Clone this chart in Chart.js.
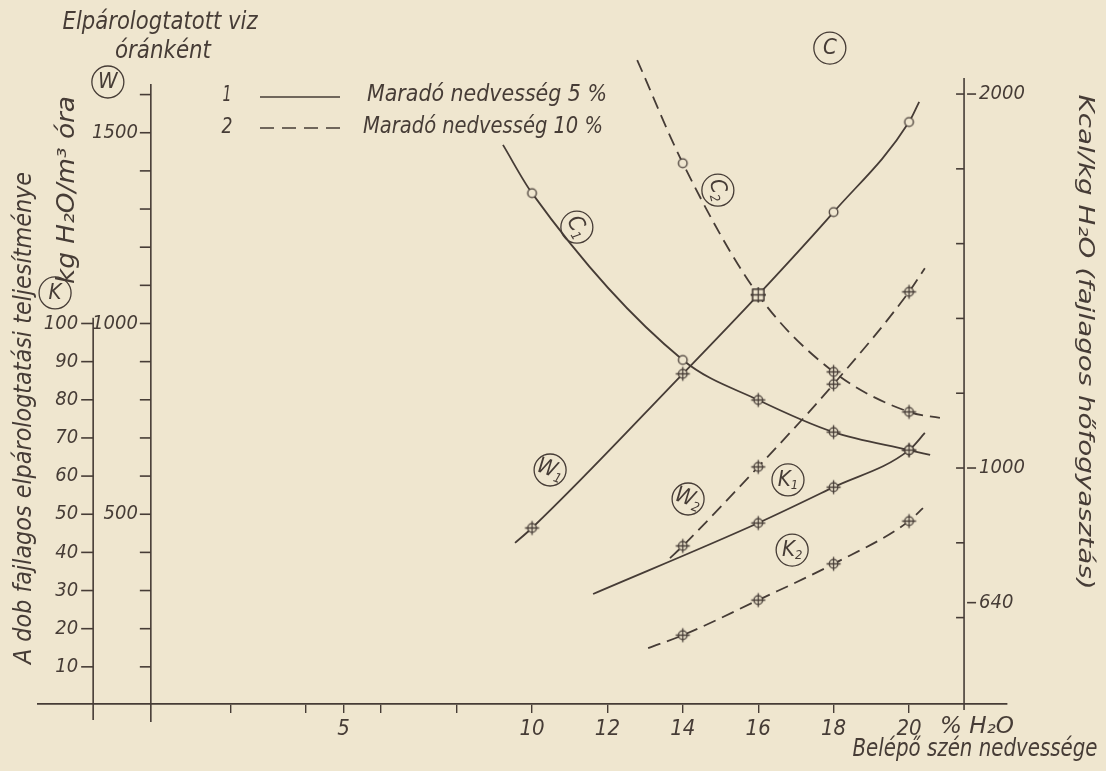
<!DOCTYPE html>
<html>
<head>
<meta charset="utf-8">
<script src="https://cdn.jsdelivr.net/npm/chart.js@4/dist/chart.umd.min.js"></script>
<style>
  html, body { margin: 0; padding: 0; background: #efe6cf; }
  #wrap { width: 1106px; height: 771px; position: relative; }
</style>
</head>
<body>
<div id="wrap"><canvas id="c" width="1106" height="771"></canvas></div>
<script>
// ---- values (x: belépő szén nedvessége, % H2O) ----
// C1 / C2: fajlagos hőfogyasztás, Kcal/kg H2O (5 % / 10 % maradó nedvesség)
const c1Moisture = [9.23, 10, 14, 16, 18, 20, 20.56];
const c1Heat     = [1864, 1735, 1289, 1182, 1096, 1048, 1035];
const c2Moisture = [12.79, 14, 16, 18, 20, 20.82];
const c2Heat     = [2091, 1815, 1463, 1257, 1150, 1134];
// W1 / W2: elpárologtatott víz óránként, kg
const w1Moisture = [9.55, 10, 14, 16, 18, 20, 20.27];
const w1Water    = [425, 464, 868, 1075, 1292, 1528, 1581];
const w2Moisture = [13.66, 14, 16, 18, 20, 20.42];
const w2Water    = [385, 417, 624, 841, 1083, 1145];
// K1 / K2: a dob fajlagos elpárologtatási teljesítménye, kg H2O/m3 óra
const k1Moisture = [11.62, 16, 18, 20, 20.42];
const k1Rate     = [29.1, 47.7, 57.1, 66.8, 71.3];
const k2Moisture = [13.08, 14, 16, 18, 20, 20.37];
const k2Rate     = [14.9, 18.3, 27.5, 37.0, 48.2, 51.6];

// ---- tick values ----
const xTicks      = [2, 4, 5, 6, 8, 10, 12, 14, 16, 18, 20];
const xTickLabels = [5, 10, 12, 14, 16, 18, 20];
const wTicks      = [100, 200, 300, 400, 500, 600, 700, 800, 900, 1000, 1100, 1200, 1300, 1400, 1500, 1600];
const wTickLabels = [500, 1000, 1500];
const kTicks      = [10, 20, 30, 40, 50, 60, 70, 80, 90, 100];
const kTickLabels = [10, 20, 30, 40, 50, 60, 70, 80, 90, 100];
const cTicks      = [600, 800, 1000, 1200, 1400, 1600, 1800, 2000];
const cTickLabels = [640, 1000, 2000];

// ---- look ----
const INK = '#463c36';
const PAPER = '#efe6cf';
const FONT = "'DejaVu Sans Condensed', 'DejaVu Sans', sans-serif";
const font = s => `italic ${s}px ${FONT}`;

// where the vertical scales stand along the moisture axis
const W_AXIS_AT = -0.11;
const K_AXIS_AT = -1.64;
const C_AXIS_AT = 21.46;

// marker kind per point: '' = none, 'o' = ring, '+' = ring with cross, '#' = crossed square
const markerKinds = {
  c1: ['', 'o', 'o', '+', '+', '+', ''],
  c2: ['', 'o', '#', '+', '+', ''],
  w1: ['', '+', '+', '#', 'o', 'o', ''],
  w2: ['', '+', '+', '+', '+', ''],
  k1: ['', '+', '+', '+', ''],
  k2: ['', '+', '+', '+', '+', '']
};

function makeMarker(kind) {
  const s = 17, c = s / 2;
  const cv = document.createElement('canvas');
  cv.width = cv.height = s;
  const g = cv.getContext('2d');
  g.strokeStyle = INK; g.lineWidth = 1.3; g.fillStyle = PAPER;
  if (kind === '#') {
    g.fillRect(c - 5.5, c - 5.5, 11, 11);
    g.strokeRect(c - 5.5, c - 5.5, 11, 11);
    g.beginPath(); g.moveTo(c, 1); g.lineTo(c, s - 1); g.moveTo(1, c); g.lineTo(s - 1, c); g.stroke();
    return cv;
  }
  g.beginPath(); g.arc(c, c, 4.3, 0, Math.PI * 2); g.fill(); g.stroke();
  if (kind === '+') {
    g.beginPath(); g.moveTo(c, 1.5); g.lineTo(c, s - 1.5); g.moveTo(1.5, c); g.lineTo(s - 1.5, c); g.stroke();
  }
  return cv;
}
const markerImg = { 'o': makeMarker('o'), '+': makeMarker('+'), '#': makeMarker('#') };

function series(xs, ys) { return xs.map((x, i) => ({ x, y: ys[i] })); }

function lineSet(label, xs, ys, axis, kinds, dashed) {
  return {
    label,
    data: series(xs, ys),
    yAxisID: axis,
    showLine: true,
    borderColor: INK,
    borderWidth: 1.8,
    borderDash: dashed ? [13, 7] : [],
    cubicInterpolationMode: 'monotone',
    clip: false,
    pointRadius: ctx => kinds[ctx.dataIndex] ? 5 : 0,
    pointStyle: ctx => markerImg[kinds[ctx.dataIndex]] || 'circle',
    pointBackgroundColor: PAPER,
    pointBorderColor: INK
  };
}

function strokeLine(ctx, x1, y1, x2, y2) {
  ctx.beginPath(); ctx.moveTo(x1, y1); ctx.lineTo(x2, y2); ctx.stroke();
}

// text squeezed/stretched to a given run length, optionally rotated
function fitText(ctx, text, cx, cy, size, width, rotDeg) {
  ctx.save();
  ctx.font = font(size);
  const w = ctx.measureText(text).width;
  ctx.translate(cx, cy);
  ctx.rotate((rotDeg || 0) * Math.PI / 180);
  ctx.scale(width / w, 1);
  ctx.textAlign = 'center';
  ctx.textBaseline = 'middle';
  ctx.fillText(text, 0, 0);
  ctx.restore();
}

function circledLabel(ctx, main, sub, cx, cy, rotDeg) {
  ctx.save();
  ctx.translate(cx, cy);
  ctx.beginPath(); ctx.arc(0, 0, 16, 0, Math.PI * 2);
  ctx.lineWidth = 1.3; ctx.stroke();
  ctx.rotate((rotDeg || 0) * Math.PI / 180);
  ctx.textBaseline = 'middle';
  ctx.font = font(22);
  const mw = ctx.measureText(main).width;
  let sw = 0;
  if (sub) { ctx.font = font(13); sw = ctx.measureText(sub).width; }
  const x0 = -(mw + sw) / 2;
  ctx.font = font(22); ctx.textAlign = 'left';
  ctx.fillText(main, x0, 0);
  if (sub) { ctx.font = font(13); ctx.fillText(sub, x0 + mw, 6); }
  ctx.restore();
}

const nomogramPlugin = {
  id: 'nomogram',
  afterDatasetsDraw(chart) {
    const { ctx, chartArea, scales } = chart;
    const { x, yW, yK, yC } = scales;
    ctx.save();
    ctx.strokeStyle = INK;
    ctx.fillStyle = INK;
    ctx.lineWidth = 1.6;

    // W scale
    const wx = x.getPixelForValue(W_AXIS_AT);
    strokeLine(ctx, wx, yW.getPixelForValue(1628), wx, chartArea.bottom + 18);
    wTicks.forEach(v => { const py = yW.getPixelForValue(v); strokeLine(ctx, wx - 11, py, wx, py); });
    ctx.font = font(20); ctx.textAlign = 'right'; ctx.textBaseline = 'middle';
    wTickLabels.forEach(v => ctx.fillText(String(v), wx - 13, yW.getPixelForValue(v)));

    // K scale
    const kx = x.getPixelForValue(K_AXIS_AT);
    strokeLine(ctx, kx, yK.getPixelForValue(101.5), kx, chartArea.bottom + 16);
    kTicks.forEach(v => { const py = yK.getPixelForValue(v); strokeLine(ctx, kx - 12, py, kx, py); });
    ctx.font = font(20); ctx.textAlign = 'right';
    kTickLabels.forEach(v => ctx.fillText(String(v), kx - 15, yK.getPixelForValue(v)));

    // C scale
    const cx = x.getPixelForValue(C_AXIS_AT);
    strokeLine(ctx, cx, yC.getPixelForValue(2043), cx, chartArea.bottom + 6);
    cTicks.forEach(v => { const py = yC.getPixelForValue(v); strokeLine(ctx, cx - 8, py, cx, py); });
    ctx.font = font(20); ctx.textAlign = 'left';
    cTickLabels.forEach(v => {
      const py = yC.getPixelForValue(v);
      strokeLine(ctx, cx + 3, py, cx + 12, py);
      ctx.fillText(String(v), cx + 15, py);
    });

    // titles
    fitText(ctx, 'Elpárologtatott viz', 160, 23, 24, 195, 0);
    fitText(ctx, 'óránként', 163, 52, 24, 96, 0);
    fitText(ctx, 'A dob fajlagos elpárologtatási teljesítménye', 25, 418, 24, 492, -90);
    fitText(ctx, 'kg H₂O/m³ óra', 68, 190, 24, 188, -90);
    fitText(ctx, 'Kcal/kg H₂O (fajlagos hőfogyasztás)', 1085, 342, 22, 495, 90);
    fitText(ctx, 'Belépő szén nedvessége', 975, 750, 24, 245, 0);
    fitText(ctx, '% H₂O', 977, 727, 23, 74, 0);

    // legend
    ctx.lineWidth = 1.6;
    fitText(ctx, '1', 227, 95, 22, 9, 0);
    strokeLine(ctx, 260, 97, 340, 97);
    fitText(ctx, 'Maradó nedvesség 5 %', 487, 95, 23, 240, 0);
    fitText(ctx, '2', 227, 127, 22, 11, 0);
    ctx.setLineDash([14, 8]);
    strokeLine(ctx, 260, 128, 342, 128);
    ctx.setLineDash([]);
    fitText(ctx, 'Maradó nedvesség 10 %', 483, 127, 23, 240, 0);

    // circled scale / curve names
    ctx.lineWidth = 1.3;
    circledLabel(ctx, 'W', '', x.getPixelForValue(-1.25), yW.getPixelForValue(1633), 0);
    circledLabel(ctx, 'K', '', x.getPixelForValue(-2.65), yK.getPixelForValue(108), 0);
    circledLabel(ctx, 'C', '', x.getPixelForValue(17.9), yC.getPixelForValue(2123), 0);
    circledLabel(ctx, 'C', '1', x.getPixelForValue(11.19), yC.getPixelForValue(1644), 60);
    circledLabel(ctx, 'C', '2', x.getPixelForValue(14.93), yC.getPixelForValue(1743), 75);
    circledLabel(ctx, 'W', '1', x.getPixelForValue(10.48), yW.getPixelForValue(616), 20);
    circledLabel(ctx, 'W', '2', x.getPixelForValue(14.14), yW.getPixelForValue(540), 20);
    circledLabel(ctx, 'K', '1', x.getPixelForValue(16.79), yK.getPixelForValue(59.0), 0);
    circledLabel(ctx, 'K', '2', x.getPixelForValue(16.9), yK.getPixelForValue(40.6), 0);

    ctx.restore();
  }
};

Chart.defaults.font.family = FONT;
Chart.defaults.color = INK;

new Chart(document.getElementById('c'), {
  type: 'scatter',
  data: {
    datasets: [
      lineSet('C1', c1Moisture, c1Heat, 'yC', markerKinds.c1, false),
      lineSet('C2', c2Moisture, c2Heat, 'yC', markerKinds.c2, true),
      lineSet('W1', w1Moisture, w1Water, 'yW', markerKinds.w1, false),
      lineSet('W2', w2Moisture, w2Water, 'yW', markerKinds.w2, true),
      lineSet('K1', k1Moisture, k1Rate, 'yK', markerKinds.k1, false),
      lineSet('K2', k2Moisture, k2Rate, 'yK', markerKinds.k2, true)
    ]
  },
  options: {
    responsive: false,
    animation: false,
    events: [],
    layout: { padding: { left: 38, right: 99, top: 20, bottom: 0 } },
    plugins: { legend: { display: false }, tooltip: { enabled: false } },
    scales: {
      x: {
        type: 'linear',
        min: -3.103,
        max: 22.599,
        afterBuildTicks: s => { s.ticks = xTicks.map(v => ({ value: v })); },
        afterFit: s => { s.height = 67; },
        grid: { drawOnChartArea: false, drawTicks: true, tickLength: 9, color: INK, lineWidth: 1.4 },
        border: { display: true, color: INK, width: 1.8 },
        ticks: {
          autoSkip: false,
          maxRotation: 0,
          padding: 3,
          color: INK,
          font: { family: FONT, size: 22, style: 'italic' },
          callback: v => xTickLabels.includes(v) ? String(v) : ''
        }
      },
      yW: { type: 'linear', position: 'left', display: false, min: 2.6, max: 1795.5 },
      yK: { type: 'linear', position: 'left', display: false, min: 0.26, max: 179.55 },
      yC: { type: 'linear', position: 'right', display: false, min: 369, max: 2198 }
    }
  },
  plugins: [nomogramPlugin]
});
</script>
</body>
</html>
